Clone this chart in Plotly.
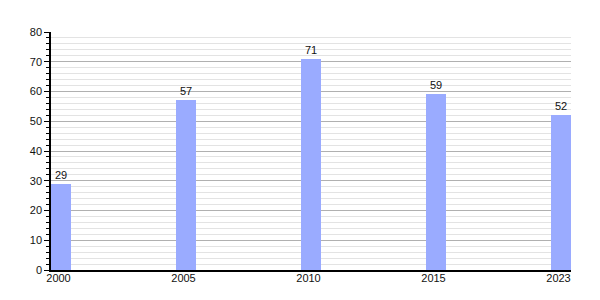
import plotly.graph_objects as go

years = ["2000", "2005", "2010", "2015", "2023"]
values = [29, 57, 71, 59, 52]
y_ticks = [0, 10, 20, 30, 40, 50, 60, 70, 80]

positions = list(range(len(years)))
bar_w = 0.16
label_pos = [p + 0.06 for p in positions]

fig = go.Figure()
fig.add_trace(go.Bar(
    x=positions, y=values, width=bar_w, offset=0,
    marker=dict(color="#9aabff", line=dict(width=0)),
    text=[str(v) for v in values], textposition="outside",
    textfont=dict(size=11, color="#111111", family="Liberation Sans, Arial, sans-serif"),
    cliponaxis=False,
))

fig.update_layout(
    width=600, height=300,
    margin=dict(l=51, r=29, t=32, b=30),
    plot_bgcolor="white", paper_bgcolor="white",
    showlegend=False,
    font=dict(family="Liberation Sans, Arial, sans-serif", size=11, color="#111111"),
    bargap=0,
)
fig.update_xaxes(
    range=[0, len(years) - 1 + bar_w],
    tickvals=label_pos, ticktext=years,
    showline=True, linecolor="black", linewidth=1.5,
    showgrid=False, zeroline=False, ticks="", ticklen=0,
    ticklabelstandoff=-3,
)
fig.update_yaxes(
    range=[0, 80], tickvals=y_ticks,
    showline=True, linecolor="black", linewidth=1.5,
    ticks="outside", ticklen=5, tickcolor="black", tickwidth=1,
    showgrid=True, gridcolor="#b0b0b0", gridwidth=1, zeroline=False,
    minor=dict(dtick=2, ticks="outside", ticklen=3, tickcolor="black",
               showgrid=True, gridcolor="#e3e3e3", gridwidth=1),
)

fig.write_html("out.html")
